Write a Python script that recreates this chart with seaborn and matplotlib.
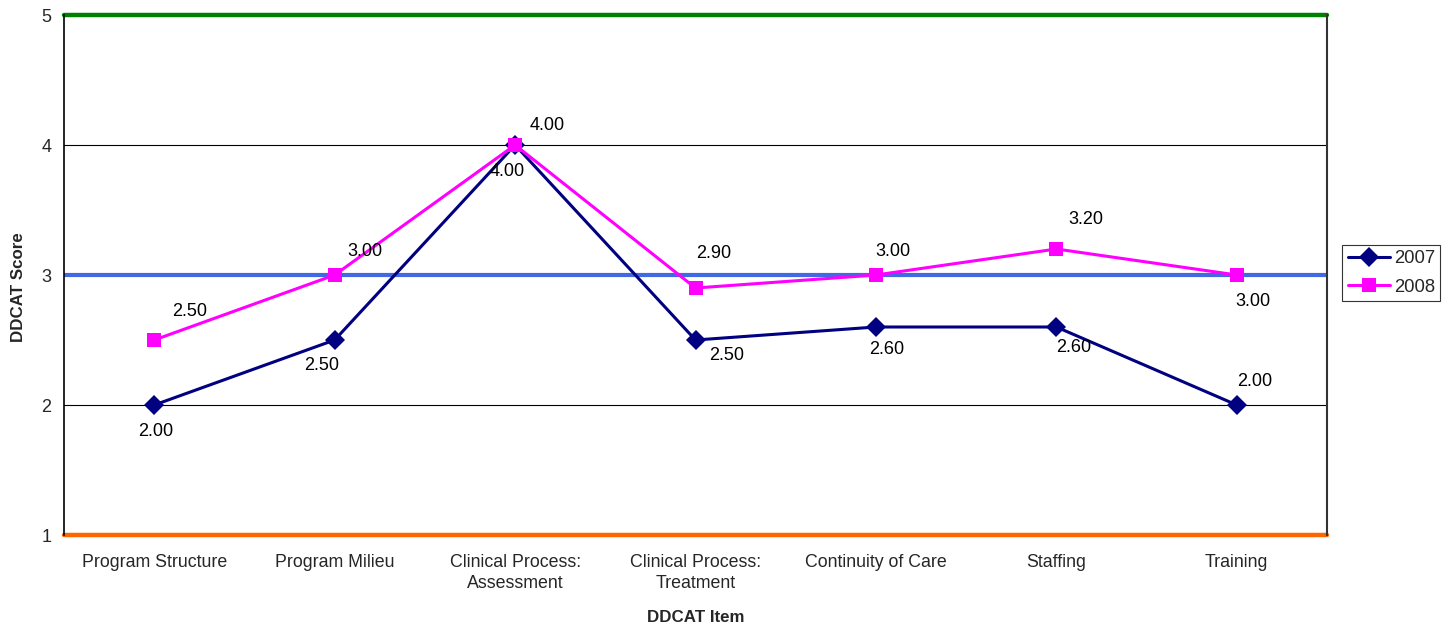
import matplotlib
matplotlib.use("Agg")
import matplotlib.pyplot as plt
from matplotlib.ticker import FixedLocator, NullFormatter
import seaborn as sns
import pandas as pd

items = ["Program Structure", "Program Milieu", "Clinical Process:\nAssessment",
         "Clinical Process:\nTreatment", "Continuity of Care", "Staffing", "Training"]
scores_2007 = [2.00, 2.50, 4.00, 2.50, 2.60, 2.60, 2.00]
scores_2008 = [2.50, 3.00, 4.00, 2.90, 3.00, 3.20, 3.00]
years = ["2007", "2008"]
y_ticks = [1, 2, 3, 4, 5]

# label offsets (pixels) for the value annotations
offsets_2007 = [(1, -27), (-13, -26), (-8, -27), (31, -16), (11, -23), (17, -21), (18, 24)]
offsets_2008 = [(35, 28), (30, 24), (32, 20), (18, 35), (17, 23), (29, 29), (16, -27)]

sns.set_style("white")
plt.rcParams["font.family"] = ["Liberation Sans", "DejaVu Sans"]

df = pd.DataFrame({
    "pos": list(range(len(items))) * 2,
    "score": scores_2007 + scores_2008,
    "year": [years[0]] * len(items) + [years[1]] * len(items),
})

fig = plt.figure(figsize=(14.45, 6.27), dpi=100)
ax = fig.add_axes([64 / 1445, 1 - 535 / 627, (1327 - 64) / 1445, (535 - 15) / 627])

# reference levels
ax.axhline(5, color="#008000", lw=3.2, zorder=1, clip_on=False)
ax.axhline(3, color="#4169E1", lw=3, zorder=1)
ax.axhline(1, color="#FF6600", lw=3.2, zorder=1, clip_on=False)
for g in [2, 4]:
    ax.axhline(g, color="black", lw=0.8, zorder=0)

palette = {"2007": "#000080", "2008": "#FF00FF"}
sns.lineplot(data=df, x="pos", y="score", hue="year", style="year",
             markers={"2007": "D", "2008": "s"}, dashes=False,
             palette=palette, lw=2.2, markersize=10.5, markeredgewidth=0,
             ax=ax, zorder=3)

for vals, offs in [(scores_2007, offsets_2007), (scores_2008, offsets_2008)]:
    for i, (v, (dx, dy)) in enumerate(zip(vals, offs)):
        ax.annotate(f"{v:.2f}", (i, v), xytext=(dx, dy), textcoords="offset pixels",
                    ha="center", va="center", fontsize=13, color="black", zorder=4)

ax.set_xlim(-0.5, len(items) - 0.5)
ax.set_ylim(1, 5)
ax.set_yticks(y_ticks)
ax.set_yticklabels([str(t) for t in y_ticks], fontsize=13)
ax.set_xticks(range(len(items)))
ax.set_xticklabels(items, fontsize=12.8, linespacing=1.25)
ax.xaxis.set_minor_locator(FixedLocator([i - 0.5 for i in range(len(items) + 1)]))
ax.xaxis.set_minor_formatter(NullFormatter())
ax.tick_params(axis="x", which="major", length=0, pad=14)
ax.tick_params(axis="x", which="minor", length=4, width=0.8, color="#555555", direction="inout")
ax.tick_params(axis="y", which="major", length=6, width=0.8, color="#555555", direction="inout", pad=6)

ax.set_xlabel("DDCAT Item", fontsize=12.2, fontweight="bold", va="center")
ax.set_ylabel("DDCAT Score", fontsize=12.2, fontweight="bold", va="center")
ax.xaxis.set_label_coords(0.5, -(617 - 535) / 520)
ax.yaxis.set_label_coords(-(64 - 19) / 1263, 1 - (287 - 15) / 520)

ax.spines["left"].set_color("black")
ax.spines["left"].set_linewidth(1.2)
ax.spines["right"].set_color("#333333")
ax.spines["right"].set_linewidth(1.5)
ax.spines["top"].set_visible(False)
ax.spines["bottom"].set_visible(False)

handles, labels = ax.get_legend_handles_labels()
leg = ax.legend(handles, labels, loc="center left", bbox_to_anchor=(1342 / 1445, 1 - 273 / 627),
                bbox_transform=fig.transFigure, frameon=True, fancybox=False,
                fontsize=13.3, handlelength=2.3, handletextpad=0.2, borderpad=0.3,
                labelspacing=0.6, borderaxespad=0)
leg.get_frame().set_edgecolor("black")
leg.get_frame().set_linewidth(0.8)

fig.savefig("out.png", dpi=100)
